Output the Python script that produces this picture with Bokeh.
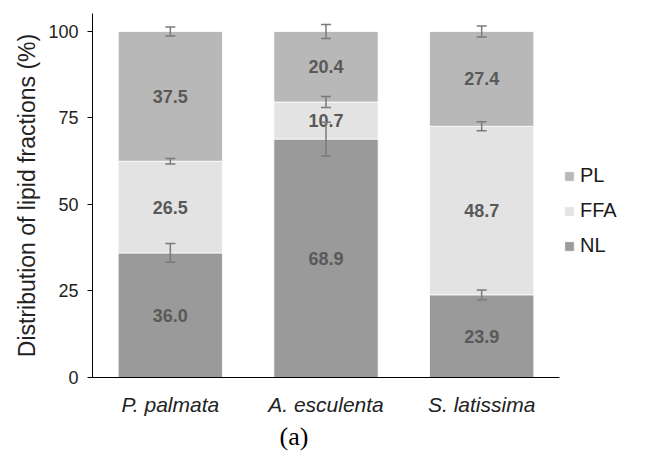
from bokeh.plotting import figure
from bokeh.models import (ColumnDataSource, Whisker, TeeHead, Legend, LegendItem,
                          Title, FixedTicker)
from bokeh.core.properties import value
from bokeh.embed import file_html
from bokeh.resources import INLINE

# ---- data ----
species = ["P. palmata", "A. esculenta", "S. latissima"]
fractions = ["NL", "FFA", "PL"]
nl = [36.0, 68.9, 23.9]
ffa = [26.5, 10.7, 48.7]
pl = [37.5, 20.4, 27.4]
nl_err = [2.7, 4.9, 1.4]
ffa_err = [0.8, 1.6, 1.3]
pl_err = [1.3, 2.0, 1.6]
y_ticks = [0, 25, 50, 75, 100]
colors = ["#9a9a9a", "#e3e3e3", "#b8b8b8"]

FONT = "Liberation Sans"
TXT = "#595959"

src = ColumnDataSource(dict(species=species, NL=nl, FFA=ffa, PL=pl))

p = figure(x_range=species, y_range=(0, 105.2), frame_width=467, frame_height=364,
           output_backend="svg", toolbar_location=None,
           min_border_left=92, min_border_right=0, min_border_top=13,
           min_border_bottom=84)

renderers = p.vbar_stack(fractions, x="species", width=0.67, color=colors,
                         line_color="white", line_width=0.8, source=src)

# segment labels
series = [nl, ffa, pl]
for i, vals in enumerate(series):
    base = [sum(series[k][j] for k in range(i)) for j in range(len(species))]
    mids = [b + v / 2 for b, v in zip(base, vals)]
    p.text(x=species, y=mids, text=["%.1f" % v for v in vals],
           text_align="center", text_baseline="middle",
           text_font=value(FONT), text_font_size="18px",
           text_font_style="bold", text_color=TXT)

# error bars
tops_nl = nl
tops_ffa = [a + b for a, b in zip(nl, ffa)]
tops_pl = [a + b + c for a, b, c in zip(nl, ffa, pl)]
xs, ups, lows = [], [], []
for tops, errs in [(tops_nl, nl_err), (tops_ffa, ffa_err), (tops_pl, pl_err)]:
    for s, t, e in zip(species, tops, errs):
        xs.append(s)
        ups.append(t + e)
        lows.append(t - e)
esrc = ColumnDataSource(dict(x=xs, upper=ups, lower=lows))
w = Whisker(base="x", upper="upper", lower="lower", source=esrc, level="overlay",
            line_color="#7a7a7a", line_width=1.5,
            upper_head=TeeHead(size=10, line_color="#7a7a7a", line_width=1.5),
            lower_head=TeeHead(size=10, line_color="#7a7a7a", line_width=1.5))
p.add_layout(w)

# axes
p.xgrid.visible = False
p.ygrid.visible = False
p.outline_line_color = None
p.yaxis.ticker = FixedTicker(ticks=y_ticks)
p.yaxis.minor_tick_line_color = None
p.yaxis.major_tick_out = 5
p.yaxis.major_tick_in = 0
p.yaxis.axis_line_color = "black"
p.yaxis.major_tick_line_color = "black"
p.yaxis.major_label_text_font = FONT
p.yaxis.major_label_text_font_size = "18px"
p.yaxis.major_label_text_color = "#222222"
p.yaxis.major_label_standoff = 9
p.yaxis.axis_label = "Distribution of lipid fractions (%)"
p.yaxis.axis_label_text_font = FONT
p.yaxis.axis_label_text_font_size = "23px"
p.yaxis.axis_label_text_font_style = "normal"
p.yaxis.axis_label_text_color = "#222222"
p.yaxis.axis_label_standoff = 5

p.xaxis.major_tick_line_color = None
p.xaxis.minor_tick_line_color = None
p.xaxis.axis_line_color = "black"
p.xaxis.major_label_text_font = FONT
p.xaxis.major_label_text_font_size = "21px"
p.xaxis.major_label_text_font_style = "italic"
p.xaxis.major_label_text_color = "#222222"
p.xaxis.major_label_standoff = 9

# legend (PL on top), placed right of the plot frame
items = [LegendItem(label=f, renderers=[r]) for f, r in zip(fractions, renderers)][::-1]
legend = Legend(items=items, location=(4, 120), border_line_color=None,
                background_fill_alpha=0, glyph_width=12, glyph_height=12,
                label_text_font=FONT, label_text_font_size="20px",
                label_text_color="#1a1a1a", label_standoff=5,
                spacing=12, padding=0, margin=0)
p.add_layout(legend, "right")

p.add_layout(Title(text="(a)", align="left", offset=187, standoff=3,
                   text_font="Liberation Serif", text_font_size="26px",
                   text_font_style="normal", text_color="black"), "below")

open("out.html", "w").write(file_html(p, INLINE))
